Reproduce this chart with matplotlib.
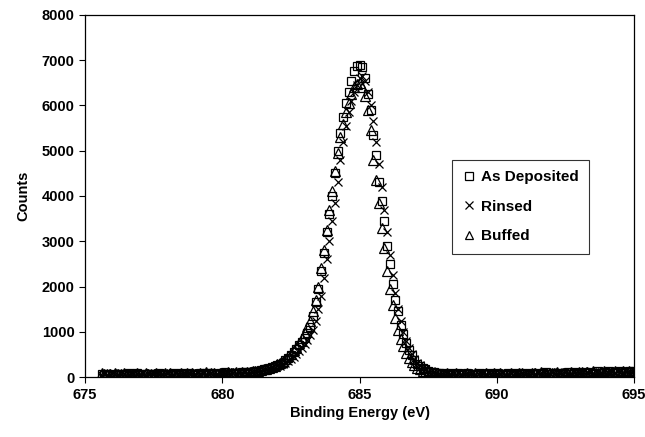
import numpy as np
import matplotlib
matplotlib.use("Agg")
import matplotlib.pyplot as plt

plt.rcParams['font.family'] = ['Liberation Sans', 'DejaVu Sans']
plt.rcParams['font.weight'] = 'bold'

# binding energy grid, 675.6 .. 695.0 eV in 0.1 eV steps
energy = np.round(675.6 + 0.1 * np.arange(195), 1)

# As Deposited
dep_left = [60, 45, 70, 55, 80, 50, 65, 75, 40, 60,
            85, 55, 70, 90, 50, 65, 80, 60, 75, 45,
            70, 95, 60, 80, 55, 75, 90, 65, 50, 85,
            70, 60, 95, 75, 55, 80, 100, 65, 85, 70,
            90, 75, 60, 95, 80, 105, 70, 90, 85, 100,
            80, 110, 95, 105]
dep_peak = [110, 120, 130, 140, 150, 170, 185, 200, 220, 240,
            260, 290, 320, 370, 420, 480, 550, 620, 700, 780,
            870, 980, 1100, 1350, 1650, 1950, 2350, 2750, 3200, 3600,
            4000, 4500, 5000, 5400, 5750, 6050, 6300, 6550, 6750, 6880,
            6900, 6850, 6600, 6250, 5900, 5350, 4900, 4300, 3900, 3450,
            2900, 2500, 2050, 1700, 1450, 1150, 950, 750, 600, 480,
            380, 300, 250, 200, 170, 140, 120, 105, 95, 90,
            85]
dep_right = [80, 70, 95, 60, 75, 85, 55, 70, 90, 65,
             75, 50, 80, 95, 60, 70, 85, 55, 75, 90,
             65, 80, 60, 95, 70, 55, 85, 75, 100, 65,
             80, 90, 60, 75, 95, 70, 85, 105, 65, 80,
             90, 75, 100, 85, 70, 110, 80, 95, 120, 75,
             90, 105, 85, 115, 70, 100, 125, 90, 110, 95,
             130, 85, 115, 100, 140, 95, 120, 135, 105, 125]

# Rinsed
rin_left = [55, 75, 50, 65, 85, 60, 45, 70, 80, 55,
            65, 90, 50, 75, 60, 85, 55, 70, 95, 65,
            50, 80, 75, 60, 90, 70, 55, 85, 65, 95,
            75, 55, 80, 100, 60, 85, 70, 95, 75, 60,
            85, 100, 70, 90, 65, 95, 110, 80, 100, 90,
            105, 85, 115, 100]
rin_peak = [100, 110, 120, 130, 140, 150, 165, 180, 195, 215,
            235, 255, 280, 310, 350, 400, 450, 510, 580, 650,
            730, 820, 920, 1050, 1250, 1500, 1800, 2200, 2600, 3000,
            3450, 3850, 4300, 4800, 5200, 5550, 5850, 6100, 6300, 6450,
            6600, 6650, 6550, 6300, 6000, 5650, 5200, 4700, 4200, 3700,
            3200, 2700, 2250, 1850, 1500, 1250, 1000, 800, 640, 500,
            400, 320, 260, 210, 175, 145, 125, 110, 100, 90,
            85]
rin_right = [75, 90, 65, 80, 55, 95, 70, 85, 60, 75,
             90, 65, 80, 55, 100, 70, 85, 65, 90, 75,
             60, 95, 80, 70, 85, 55, 90, 100, 70, 80,
             95, 65, 85, 75, 105, 80, 60, 95, 85, 110,
             75, 90, 100, 80, 115, 95, 85, 105, 90, 120,
             100, 80, 110, 125, 95, 105, 115, 90, 130, 110,
             100, 125, 95, 135, 115, 105, 140, 120, 110, 130]

# Buffed
buf_left = [90, 65, 80, 70, 55, 85, 60, 75, 95, 50,
            70, 80, 60, 90, 75, 55, 85, 65, 80, 70,
            95, 60, 75, 85, 65, 90, 55, 80, 70, 100,
            60, 85, 75, 95, 65, 80, 90, 70, 105, 75,
            85, 95, 70, 100, 80, 90, 110, 85, 95, 105,
            90, 115, 100, 110]
buf_peak = [115, 125, 135, 145, 160, 175, 190, 210, 230, 255,
            280, 310, 350, 400, 460, 520, 590, 670, 760, 860,
            970, 1100, 1250, 1450, 1700, 2000, 2400, 2800, 3250, 3700,
            4100, 4550, 4950, 5300, 5600, 5850, 6050, 6250, 6400, 6480,
            6500, 6400, 6200, 5900, 5450, 4800, 4350, 3850, 3300, 2850,
            2350, 1950, 1600, 1300, 1050, 850, 680, 540, 420, 330,
            260, 210, 170, 140, 120, 105, 95, 85, 80, 75,
            75]
buf_right = [70, 85, 60, 75, 90, 55, 80, 65, 95, 70,
             60, 85, 75, 50, 80, 95, 65, 75, 85, 60,
             90, 70, 80, 55, 95, 75, 65, 85, 100, 70,
             80, 60, 95, 85, 70, 105, 75, 90, 65, 100,
             85, 110, 75, 95, 90, 80, 115, 100, 85, 105,
             120, 90, 110, 95, 125, 100, 85, 115, 130, 105,
             95, 120, 140, 110, 100, 130, 115, 145, 120, 110]

deposited = dep_left + dep_peak + dep_right
rinsed = rin_left + rin_peak + rin_right
buffed = buf_left + buf_peak + buf_right

fig = plt.figure(figsize=(6.45, 4.37), dpi=100)
ax = fig.add_axes([0.132, 0.137, 0.851, 0.829])

ax.plot(energy, deposited, linestyle='none', marker='s', ms=6, mfc='none',
        mec='black', mew=0.9, label='As Deposited')
ax.plot(energy, rinsed, linestyle='none', marker='x', ms=6, color='black',
        mew=0.9, label='Rinsed')
ax.plot(energy, buffed, linestyle='none', marker='^', ms=7, mfc='none',
        mec='black', mew=0.9, label='Buffed')

ax.set_xlim(675, 695)
ax.set_ylim(0, 8000)
ax.set_xticks(np.arange(675, 696, 5))
ax.set_yticks(np.arange(0, 8001, 1000))
ax.tick_params(direction='out', length=4, width=0.8, labelsize=10.5)
for sp in ax.spines.values():
    sp.set_linewidth(0.9)

ax.set_xlabel('Binding Energy (eV)', fontsize=10.5, fontweight='bold', labelpad=3)
ax.set_ylabel('Counts', fontsize=10.5, fontweight='bold', labelpad=8)

leg = ax.legend(loc='upper left', bbox_to_anchor=(0.668, 0.6), fontsize=11,
                frameon=True, fancybox=False, edgecolor='black',
                borderaxespad=0, labelspacing=1.0, handlelength=0.8,
                handletextpad=0.4, borderpad=0.7, markerscale=0.9)
leg.get_frame().set_linewidth(0.8)

fig.savefig('out.png', dpi=100)
